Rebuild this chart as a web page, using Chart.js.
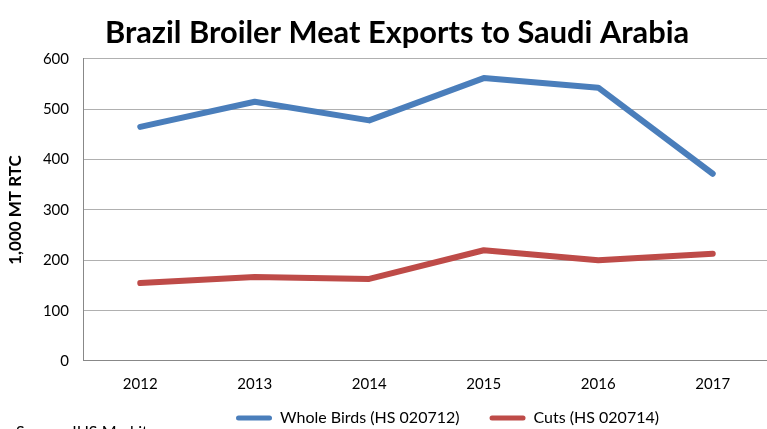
<!DOCTYPE html>
<html>
<head>
<meta charset="utf-8">
<script src="https://cdn.jsdelivr.net/npm/chart.js@4.4.1/dist/chart.umd.min.js"></script>
<style>
  html, body { margin: 0; padding: 0; background: #fff; overflow: hidden; }
  #wrap { position: absolute; left: 0; top: 0; width: 772px; height: 429px; }
  #src { position: absolute; left: 16px; top: 421px; font: 16px Lato, sans-serif; color: #000; white-space: nowrap; }
</style>
</head>
<body>
<div id="wrap"><canvas id="c" width="772" height="429"></canvas></div>
<div id="src">Source: IHS Markit</div>
<script>
const years = ['2012', '2013', '2014', '2015', '2016', '2017'];
const wholeBirds = [465, 515, 478, 562, 543, 372];
const cuts = [155, 167, 163, 220, 200, 213];
const yTicks = [0, 100, 200, 300, 400, 500, 600];

const shiftBlocks = {
  id: 'shiftBlocks',
  afterLayout(chart) {
    const t = chart.titleBlock;
    if (t) { t.left += 12; t.right += 12; }
    const l = chart.legend;
    if (l) { l.left = 206; l.top = 380; }
  }
};

new Chart(document.getElementById('c'), {
  type: 'line',
  data: {
    labels: years,
    datasets: [
      { label: 'Whole Birds (HS 020712)', data: wholeBirds, borderColor: '#4A7EBB', backgroundColor: '#4A7EBB', borderWidth: 6, pointRadius: 0, tension: 0, borderCapStyle: 'round', borderJoinStyle: 'round' },
      { label: 'Cuts (HS 020714)', data: cuts, borderColor: '#BE4B48', backgroundColor: '#BE4B48', borderWidth: 6, pointRadius: 0, tension: 0, borderCapStyle: 'round', borderJoinStyle: 'round' }
    ]
  },
  plugins: [shiftBlocks],
  options: {
    responsive: false,
    animation: false,
    layout: { padding: { left: 0, right: 2, top: 0, bottom: 0 } },
    plugins: {
      title: {
        display: true,
        text: 'Brazil Broiler Meat Exports to Saudi Arabia',
        color: '#000',
        font: { family: 'Lato', size: 30.8, weight: 'bold' },
        padding: { top: 15, bottom: 7 }
      },
      legend: {
        position: 'bottom',
        align: 'start',
        maxHeight: 29,
        labels: {
          color: '#000',
          font: { family: 'Lato', size: 16 },
          boxWidth: 36,
          boxHeight: 5,
          padding: 30,
          useBorderRadius: true,
          borderRadius: 2.5,
          generateLabels(chart) {
            return chart.data.datasets.map((ds, i) => ({
              text: ds.label, fillStyle: ds.borderColor, strokeStyle: ds.borderColor,
              lineWidth: 0, datasetIndex: i, borderRadius: 2.5, fontColor: '#000'
            }));
          }
        }
      },
      tooltip: { enabled: false }
    },
    scales: {
      x: {
        offset: true,
        grid: { display: false, drawTicks: false },
        border: { color: '#888', width: 1 },
        ticks: { color: '#000', font: { family: 'Lato', size: 15 }, padding: 14 },
        afterFit(s) { s.height = 39; }
      },
      y: {
        min: 0, max: 600,
        afterBuildTicks(s) { s.ticks = yTicks.map(v => ({ value: v })); },
        grid: { color: '#b0b0b0', lineWidth: 1, drawTicks: false },
        border: { color: '#888', width: 1 },
        ticks: { color: '#000', font: { family: 'Lato', size: 15 }, padding: 14 },
        title: { display: true, text: '1,000 MT RTC', color: '#000', font: { family: 'Lato', size: 17, weight: 'bold' }, padding: { top: 5, bottom: 0 } },
        afterFit(s) { s.width = 83; }
      }
    }
  }
});
</script>
</body>
</html>
